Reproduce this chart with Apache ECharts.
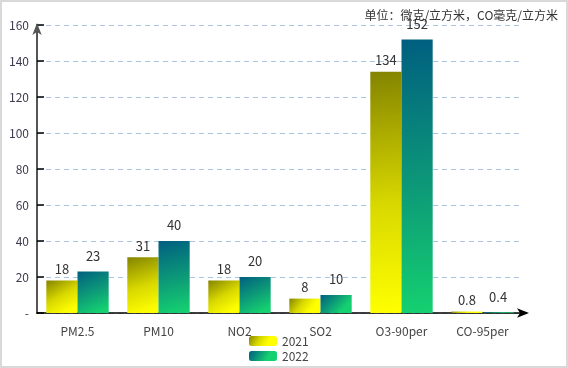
<!DOCTYPE html>
<html><head><meta charset="utf-8">
<script src="https://cdn.jsdelivr.net/npm/echarts@6/dist/echarts.min.js"></script>
<style>html,body{margin:0;padding:0;background:#fff}#c{width:568px;height:368px}</style>
</head><body><div id="c"></div>
<script>
const categories = ['PM2.5','PM10','NO2','SO2','O3-90per','CO-95per'];
const values2021 = [18,31,18,8,134,0.8];
const values2022 = [23,40,20,10,152,0.4];
const seriesNames = ['2021','2022'];
const unitText = '单位：微克/立方米，CO毫克/立方米';

const grad2021 = new echarts.graphic.LinearGradient(0,0,0.6,1,[{offset:0,color:'#848400'},{offset:0.55,color:'#d8d800'},{offset:1,color:'#ffff00'}]);
const grad2022 = new echarts.graphic.LinearGradient(0,0,0.6,1,[{offset:0,color:'#005f80'},{offset:0.55,color:'#0d9a78'},{offset:1,color:'#14d070'}]);

const chart = echarts.init(document.getElementById('c'), null, {renderer:'canvas'});
chart.setOption({
  animation:false,
  backgroundColor:'#fff',
  textStyle:{fontFamily:'"Noto Sans CJK SC", "Noto Sans", sans-serif'},
  graphic:[{type:'rect',shape:{x:1,y:1,width:566,height:366},style:{fill:'none',stroke:'#d9d9d9',lineWidth:2},silent:true}],
  title:{text:unitText,right:5,top:4,textStyle:{fontSize:12,fontWeight:'normal',color:'#333'}},
  legend:{orient:'vertical',left:249,top:334,padding:0,itemWidth:28,itemHeight:10,itemGap:1,
    textStyle:{fontSize:12,color:'#444',lineHeight:14},data:seriesNames},
  grid:{left:37,right:45,top:25,bottom:55,containLabel:false},
  xAxis:{type:'category',data:categories,boundaryGap:true,
    axisLine:{lineStyle:{color:'#000',width:1.5},symbol:['none','arrow'],symbolSize:[7,12],symbolOffset:[0,6]},
    axisTick:{alignWithLabel:true,inside:true,length:5,lineStyle:{color:'#000'}},
    axisLabel:{fontSize:12,color:'#444',margin:12}},
  yAxis:{type:'value',min:0,max:160,interval:20,
    axisLine:{show:true,lineStyle:{color:'#555',width:2},symbol:['none','arrow'],symbolSize:[7,12],symbolOffset:[0,2]},
    axisTick:{show:true,inside:true,length:7,lineStyle:{color:'#000',width:1.5}},
    axisLabel:{fontSize:12,color:'#3c3c50',margin:8,formatter:v=>v===0?'-':String(v)},
    splitLine:{lineStyle:{color:'#a9c6e4',type:[5,4]}}},
  series:[
    {name:seriesNames[0],type:'bar',data:values2021,barGap:'0%',barCategoryGap:'23%',
     itemStyle:{color:grad2021},
     label:{show:true,position:'top',distance:5,fontSize:13,color:'#333'}},
    {name:seriesNames[1],type:'bar',data:values2022,
     itemStyle:{color:grad2022},
     label:{show:true,position:'top',distance:9,fontSize:13,color:'#333'}}
  ]
});
</script></body></html>
